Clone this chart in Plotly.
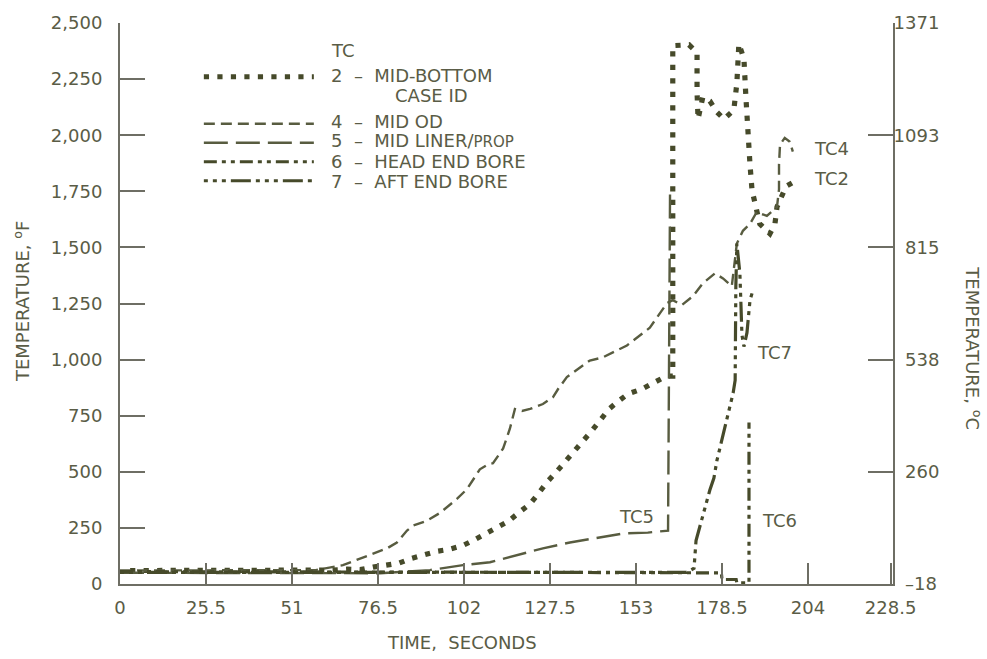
import plotly.graph_objects as go

# ---------------- data ----------------
# TC2  mid-bottom case ID  (time s, temperature F)
tc2_t = [3, 30, 55, 63, 67.3, 71.2, 75.0, 79.2, 82.7, 86.6, 90.4, 94.0, 97.5, 101.7, 104.7,
         107.9, 111.8, 115.0, 118.6, 121.6, 124.2, 126.6, 129.3, 131.9, 134.9, 137.3, 139.9,
         142.3, 145.0, 147.9, 150.6, 154.8, 158.3, 161.9, 163.9, 163.9, 168.7, 171.1, 171.1,
         171.4, 172.8, 174.9, 177.0, 179.1, 182.0, 182.9, 183.5, 185.0, 185.6, 186.2, 186.8,
         187.4, 188.8, 189.7, 192.7, 194.2, 194.8, 197.5, 200.7]
tc2_T = [60, 60, 60, 62, 66, 64, 75, 84, 93, 115, 132, 146, 154, 172, 194,
         220, 251, 278, 322, 357, 406, 454, 498, 542, 591, 635, 683,
         728, 780, 816, 847, 869, 895, 926, 926, 2399, 2403, 2368, 2191,
         2072, 2169, 2152, 2103, 2072, 2112, 2231, 2407, 2341, 2165, 1989, 1869,
         1755, 1649, 1605, 1561, 1605, 1680, 1772, 1799]

# TC4  mid OD
tc4_t = [0, 40, 58, 66.1, 74.1, 79.2, 82.1, 85.1, 86.9, 91.0, 94.9, 99.9, 102.9, 106.7, 109.1,
         110.6, 113.6, 115.6, 117.1, 119.2, 121.6, 125.4, 128.4, 129.9, 132.5, 136.4, 139.3,
         143.2, 150.3, 157.1, 160.1, 162.2, 163.9, 166.6, 169.9, 172.8, 176.4, 178.8, 181.4,
         182.9, 184.7, 186.8, 188.8, 191.8, 194.8, 195.4, 195.4, 195.7, 197.1, 198.6, 199.5]
tc4_T = [60, 60, 62, 84, 128, 159, 185, 238, 260, 282, 317, 379, 423, 511, 533,
         538, 604, 692, 780, 771, 780, 802, 833, 869, 922, 966, 996,
         1010, 1063, 1142, 1208, 1252, 1265, 1243, 1283, 1340, 1384, 1362, 1327,
         1517, 1574, 1605, 1658, 1640, 1680, 1759, 1870, 1958, 1988, 1971, 1927]

# TC5  mid liner / propellant
tc5_t = [0, 60, 77.1, 91.9, 101.7, 109.7, 117.7, 125.4, 133.4, 141.4, 149.1, 156.5, 162.5, 163.1]
tc5_T = [50, 50, 48, 62, 84, 97, 128, 159, 185, 207, 225, 229, 238, 1768]

# TC6  head end bore
tc6_t = [0, 60, 120, 170, 178.3, 178.5, 182.7, 182.9, 186.5, 186.5]
tc6_T = [55, 55, 52, 50, 50, 20, 20, 5, 5, 720]

# TC7  aft end bore
tc7_t = [0, 60, 120, 168, 170.2, 170.5, 170.8, 174.9, 176.1, 177.0, 180.3, 181.8, 182.4,
         182.4, 182.6, 182.9, 183.8, 184.1, 184.4, 185.0, 185.9, 186.8, 187.7]
tc7_T = [52, 52, 50, 52, 70, 137, 194, 419, 472, 551, 767, 851, 908,
         1107, 1327, 1517, 1384, 1252, 1111, 1058, 1120, 1265, 1310]

x_tickvals = [0, 25.5, 51, 76.5, 102, 127.5, 153, 178.5, 204, 228.5]
x_ticktext = ["0", "25.5", "51", "76.5", "102", "127.5", "153", "178.5", "204", "228.5"]
yF_tickvals = [0, 250, 500, 750, 1000, 1250, 1500, 1750, 2000, 2250, 2500]
yF_ticktext = ["0", "250", "500", "750", "1,000", "1,250", "1,500", "1,750", "2,000", "2,250", "2,500"]
yC_atF = [0, 500, 1000, 1500, 2000, 2500]
yC_ticktext = ["\u2007\u201318", "\u2007260", "\u2007538", "\u2007815", "1093", "1371"]

# legend key texts (TC number, description)
key_num = ["2", "4", "5", "6", "7"]
key_desc = ["MID-BOTTOM", "MID OD", "MID LINER/<span style='font-size:15px'>PROP</span>",
            "HEAD END BORE", "AFT END BORE"]
key_extra = "CASE ID"

# ---------------- styling ----------------
INK = "#464a2a"
INK2 = "#585c40"
TXT = "#5a5c46"
AX = "#6e6e64"
FONT = "DejaVu Sans"


def f2c(f):
    return (f - 32.0) * 5.0 / 9.0


styles = [
    dict(color=INK, width=5.2, dash="5.2px,8.3px"),
    dict(color=INK2, width=2.4, dash="11px,6px"),
    dict(color=INK2, width=2.4, dash="24px,8px"),
    dict(color=INK, width=3.2, dash="13px,5px,4px,5px,4px,5px"),
    dict(color=INK, width=3.2, dash="4px,5px,4px,5px,4px,5px,20px,5px"),
]
series = [(tc2_t, tc2_T), (tc4_t, tc4_T), (tc5_t, tc5_T), (tc6_t, tc6_T), (tc7_t, tc7_T)]

fig = go.Figure()
for i, ((tx, ty), st) in enumerate(zip(series, styles)):
    fig.add_trace(go.Scatter(x=tx, y=ty, mode="lines", name=" ",
                             legendgroup="a" if i == 0 else "b",
                             hovertext="TC" + key_num[i], hoverinfo="x+y+text",
                             line=st))
# right-hand (Celsius) axis carrier
fig.add_trace(go.Scatter(x=[None], y=[None], yaxis="y2", showlegend=False, hoverinfo="skip"))

tickfont = dict(family=FONT, size=18, color=TXT)
common = dict(showgrid=False, zeroline=False, showline=True, linecolor=AX, linewidth=2,
              ticks="inside", tickcolor=AX, tickwidth=2, tickfont=tickfont,
              ticklabeloverflow="allow")

fig.update_layout(
    width=987, height=659,
    margin=dict(l=120, r=94, t=17, b=75),
    paper_bgcolor="white", plot_bgcolor="white",
    font=dict(family=FONT, color=TXT),
    xaxis=dict(range=[0, 229.2], tickvals=x_tickvals, ticktext=x_ticktext, ticklen=21,
               ticklabelstandoff=6, **common),
    yaxis=dict(range=[0, 2500], tickvals=yF_tickvals, ticktext=yF_ticktext, ticklen=25,
               ticklabelstandoff=12, **common),
    yaxis2=dict(overlaying="y", side="right", anchor="x",
                range=[f2c(0), f2c(2500)], tickvals=[f2c(v) for v in yC_atF],
                ticktext=yC_ticktext, ticklen=25, ticklabelstandoff=-5, **common),
    legend=dict(x=0.102, y=0.930, xanchor="left", yanchor="top", bgcolor="rgba(0,0,0,0)",
                font=dict(family=FONT, size=12, color=TXT), itemwidth=110, valign="middle",
                tracegroupgap=28, traceorder="grouped"),
    showlegend=True,
)

ann = []
lab = dict(family=FONT, size=18, color=TXT)
keyfont = dict(family=FONT, size=18, color=TXT)
for txt, t, T in [("TC4", 205.2, 1940), ("TC2", 205.2, 1808), ("TC7", 188.3, 1032),
                  ("TC6", 189.7, 282), ("TC5", 147.3, 300)]:
    ann.append(dict(x=t, y=T, xref="x", yref="y", text=txt, showarrow=False,
                    xanchor="left", yanchor="middle", font=lab))
# legend key texts, beside the legend's line samples
key_rows = [0.9065, 0.8236, 0.7901, 0.7531, 0.7178]
for num, desc, yy in zip(key_num, key_desc, key_rows):
    ann.append(dict(x=0.2704, y=yy, xref="paper", yref="paper",
                    text=num + "&nbsp;&nbsp;\u2013&nbsp;&nbsp;" + desc, showarrow=False,
                    xanchor="left", yanchor="middle", font=keyfont))
ann.append(dict(x=0.3532, y=0.8713, xref="paper", yref="paper", text=key_extra,
                showarrow=False, xanchor="left", yanchor="middle", font=keyfont))
ann.append(dict(x=0.2885, y=0.9506, xref="paper", yref="paper", text="TC", showarrow=False,
                xanchor="center", yanchor="middle", font=keyfont))
# axis titles
ann.append(dict(x=0.4424, y=-0.104, xref="paper", yref="paper", text="TIME,  SECONDS",
                showarrow=False, xanchor="center", yanchor="middle", font=lab))
ann.append(dict(x=-0.127, y=0.504, xref="paper", yref="paper", text="TEMPERATURE, <sup>o</sup>F",
                showarrow=False, textangle=-90, xanchor="center", yanchor="middle", font=lab))
ann.append(dict(x=1.1035, y=0.42, xref="paper", yref="paper", text="TEMPERATURE, <sup>o</sup>C",
                showarrow=False, textangle=90, xanchor="center", yanchor="middle", font=lab))
fig.update_layout(annotations=ann)

fig.write_html("out.html", config={"displayModeBar": False},
               post_script="document.body.style.margin='0px';")
